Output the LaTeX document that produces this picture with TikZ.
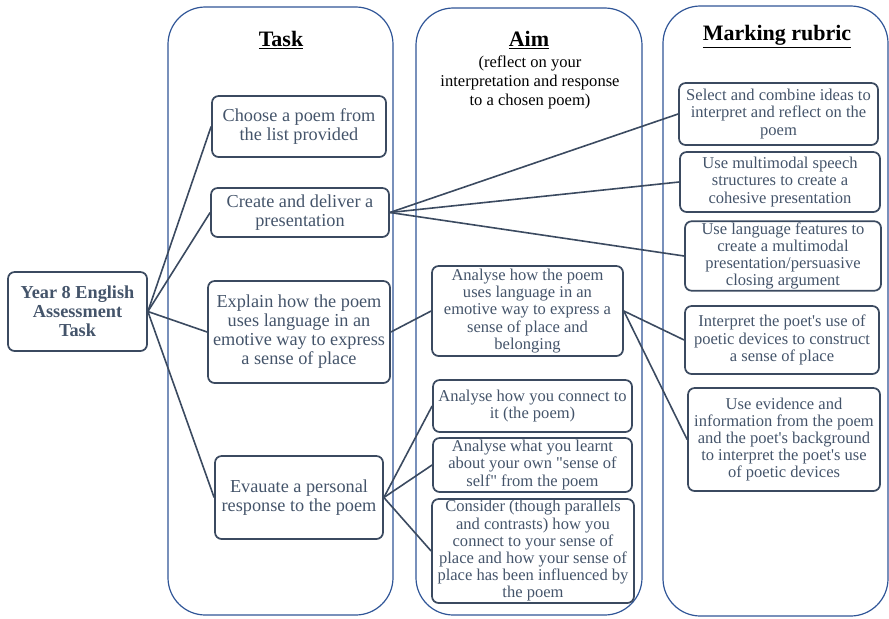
\documentclass[tikz,border=0pt]{standalone}
\usepackage{fontspec}
\setmainfont{Liberation Serif}
\newfontfamily\boxfont{Liberation Serif}
\definecolor{colblue}{HTML}{2F5597}
\definecolor{slate}{HTML}{3B4A60}
\definecolor{slatetext}{HTML}{44546A}
\tikzset{
  column/.style={draw=colblue, line width=0.9pt, rounded corners=28pt},
  box/.style={draw=slate, line width=1.3pt, rounded corners=5pt, align=center, text=slatetext, inner sep=1pt},
  bigtext/.style={font=\boxfont\fontsize{13.7}{14.3}\selectfont},
  smalltext/.style={font=\boxfont\fontsize{12.4}{12.9}\selectfont},
  bsize/.style 2 args={minimum width=#1*0.75pt, minimum height=#2*0.75pt},
  link/.style={draw=slate, line width=1.2pt},
  heading/.style={font=\fontsize{16.5}{19}\selectfont\bfseries},
}
\begin{document}
\begin{tikzpicture}[x=0.75pt,y=-0.75pt]

\useasboundingbox (0,0) rectangle (889,618);

% columns
\draw [column] (168,7) rectangle (393,615);
\draw [column] (416,8) rectangle (642,615);
\draw [column] (663,6) rectangle (888,616);

\node [heading] (tasktitle) at (281,40) {\underline{Task}};
\node [heading] (aimtitle) at (529,40) {\underline{Aim}};
\node [align=center, font=\fontsize{12.4}{14.25}\selectfont] (aimnote) at (530,82) {(reflect on your\\interpretation and response\\to a chosen poem)};
\node [heading] (rubrictitle) at (777,37) {\underline{Marking rubric}};

\node [box, bsize={139}{79}, font=\boxfont\fontsize{13.7}{14.3}\selectfont\bfseries] (year) at (77.5,311.5) {Year 8 English\\Assessment\\Task};

% task
\node [box, bigtext, bsize={174}{61}] (choose) at (299,126.5) {Choose a poem from\\the list provided};
\node [box, bigtext, bsize={178}{49}] (create) at (300,212.5) {Create and deliver a\\presentation};
\node [box, bigtext, bsize={182}{102}] (explain) at (299,332) {Explain how the poem\\uses language in an\\emotive way to express\\a sense of place};
\node [box, bigtext, bsize={168}{83}] (evaluate) at (299,497.5) {Evauate a personal\\response to the poem};

% aim
\node [box, smalltext, bsize={191}{90}] (apoem) at (527.5,311) {Analyse how the poem\\uses language in an\\emotive way to express a\\sense of place and\\belonging};
\node [box, smalltext, bsize={199}{52}] (aconnect) at (532.5,406) {Analyse how you connect to\\it (the poem)};
\node [box, smalltext, bsize={199}{54}] (alearnt) at (532.5,465) {Analyse what you learnt\\about your own "sense of\\self" from the poem};
\node [box, smalltext, bsize={202}{104}] (consider) at (533,551) {Consider (though parallels\\and contrasts) how you\\connect to your sense of\\place and how your sense of\\place has been influenced by\\the poem};

% rubric
\node [box, smalltext, bsize={199}{62}] (select) at (778.5,114) {Select and combine ideas to\\interpret and reflect on the\\poem};
\node [box, smalltext, bsize={200}{60}] (multi) at (780,182) {Use multimodal speech\\structures to create a\\cohesive presentation};
\node [box, smalltext, bsize={196}{68}] (lang) at (783,256) {Use language features to\\create a multimodal\\presentation/persuasive\\closing argument};
\node [box, smalltext, bsize={194}{68}] (interp) at (782,340) {Interpret the poet's use of\\poetic devices to construct\\a sense of place};
\node [box, smalltext, bsize={192}{103}] (evid) at (784,439.5) {Use evidence and\\information from the poem\\and the poet's background\\to interpret the poet's use\\of poetic devices};

\draw [link] (year.east) -- (choose.west);
\draw [link] (year.east) -- (create.west);
\draw [link] (year.east) -- (explain.west);
\draw [link] (year.east) -- (evaluate.west);

\draw [link] (create.east) -- (select.west);
\draw [link] (create.east) -- (multi.west);
\draw [link] (create.east) -- (lang.west);

\draw [link] (explain.east) -- (apoem.west);
\draw [link] (apoem.east) -- (interp.west);
\draw [link] (apoem.east) -- (evid.west);

\draw [link] (evaluate.east) -- (aconnect.west);
\draw [link] (evaluate.east) -- (alearnt.west);
\draw [link] (evaluate.east) -- (consider.west);

\end{tikzpicture}
\end{document}
